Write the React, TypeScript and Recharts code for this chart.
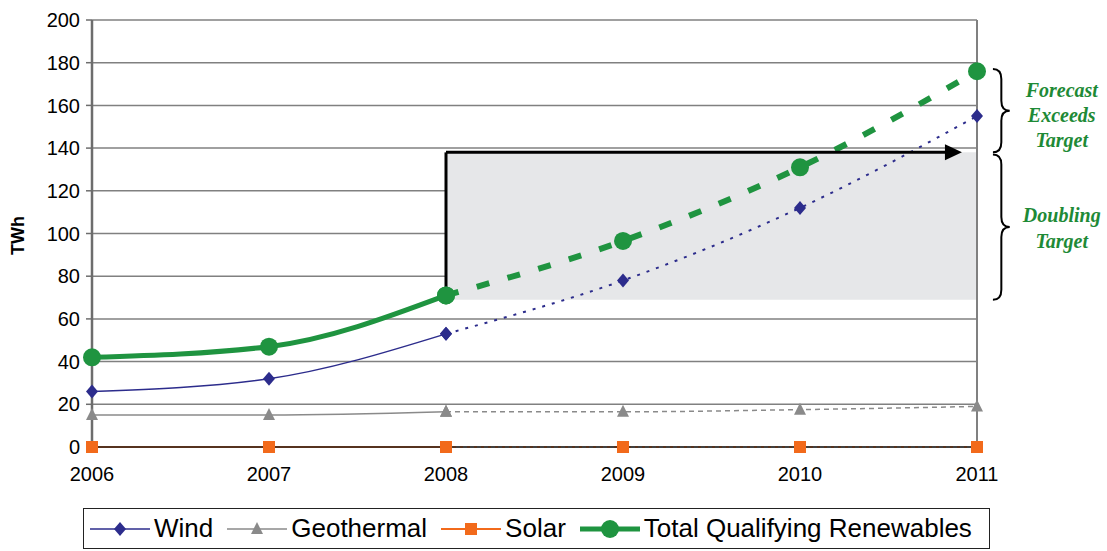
import React from 'react';
import {
  LineChart, Line, XAxis, YAxis, CartesianGrid, ReferenceArea, ReferenceLine, Legend, Label,
} from 'recharts';

const years = [2006, 2007, 2008, 2009, 2010, 2011];
const windValues = [26, 32, 53, 78, 112, 155];
const geothermalValues = [15, 15, 16.5, 16.5, 17.5, 19];
const solarValues = [0, 0, 0, 0, 0, 0];
const totalValues = [42, 47, 71, 96.5, 131, 176];
const lastActualYear = 2008;
const yTicks = [0, 20, 40, 60, 80, 100, 120, 140, 160, 180, 200];
const baseline = 69;
const target = 138;

const GREEN = '#1f9440';
const NAVY = '#2c2c8c';
const GRAY = '#8a8a8a';
const ORANGE = '#f26a1b';
const TEXT_GREEN = '#1e8a36';

const data = years.map((year, i) => ({
  year,
  windA: year <= lastActualYear ? windValues[i] : null,
  windF: year >= lastActualYear ? windValues[i] : null,
  geoA: year <= lastActualYear ? geothermalValues[i] : null,
  geoF: year >= lastActualYear ? geothermalValues[i] : null,
  solarA: year <= lastActualYear ? solarValues[i] : null,
  solarF: year >= lastActualYear ? solarValues[i] : null,
  totalA: year <= lastActualYear ? totalValues[i] : null,
  totalF: year >= lastActualYear ? totalValues[i] : null,
}));

type ShapeKind = 'diamond' | 'triangle' | 'square' | 'circle';

function Marker({ kind, cx, cy, color }: { kind: ShapeKind; cx: number; cy: number; color: string }) {
  if (kind === 'diamond') {
    return <polygon points={`${cx},${cy - 7} ${cx + 6},${cy} ${cx},${cy + 7} ${cx - 6},${cy}`} fill={color} />;
  }
  if (kind === 'triangle') {
    return <polygon points={`${cx},${cy - 7} ${cx + 6},${cy + 5} ${cx - 6},${cy + 5}`} fill={color} />;
  }
  if (kind === 'square') {
    return <rect x={cx - 6} y={cy - 6} width={12} height={12} fill={color} />;
  }
  return <circle cx={cx} cy={cy} r={9} fill={color} />;
}

const makeDot = (kind: ShapeKind, color: string) => (props: any) => {
  const { cx, cy, index } = props;
  if (cx == null || cy == null || props.value == null) return <g key={`e-${kind}-${index}`} />;
  return <g key={`d-${kind}-${index}`}><Marker kind={kind} cx={cx} cy={cy} color={color} /></g>;
};

const legendItems: { name: string; color: string; kind: ShapeKind; width: number }[] = [
  { name: 'Wind', color: NAVY, kind: 'diamond', width: 1.5 },
  { name: 'Geothermal', color: GRAY, kind: 'triangle', width: 1.5 },
  { name: 'Solar', color: ORANGE, kind: 'square', width: 2 },
  { name: 'Total Qualifying Renewables', color: GREEN, kind: 'circle', width: 5 },
];

const LegendContent = () => (
  <div
    style={{
      boxSizing: 'border-box',
      width: '100%',
      height: '100%',
      border: '1.5px solid #222',
      display: 'flex',
      alignItems: 'center',
      paddingLeft: 6,
      fontFamily: '"Liberation Sans", Arial, sans-serif',
      fontSize: 26,
      color: '#000',
      background: '#fff',
    }}
  >
    {legendItems.map((it, i) => (
      <div key={it.name} style={{ display: 'flex', alignItems: 'center', marginRight: i < 3 ? 14 : 0 }}>
        <svg width={60} height={24} style={{ display: 'block' }}>
          <line x1={0} y1={12} x2={60} y2={12} stroke={it.color} strokeWidth={it.width} />
          <Marker kind={it.kind} cx={30} cy={12} color={it.color} />
        </svg>
        <span style={{ marginLeft: 4 }}>{it.name}</span>
      </div>
    ))}
  </div>
);

const braceShape = (lines: string[], lineOffsets: number[]) => (props: any) => {
  const { x, y, width, height } = props;
  const x0 = x;
  const xt = x + width;
  const xm = x + width / 2;
  const y0 = y;
  const y1 = y + height;
  const ym = y + height / 2;
  const r = Math.min(10, height / 4);
  const d = `M ${x0} ${y0} Q ${xm} ${y0} ${xm} ${y0 + r} L ${xm} ${ym - r} Q ${xm} ${ym} ${xt} ${ym} Q ${xm} ${ym} ${xm} ${ym + r} L ${xm} ${y1 - r} Q ${xm} ${y1} ${x0} ${y1}`;
  return (
    <g>
      <path d={d} fill="none" stroke="#000" strokeWidth={2} />
      {lines.map((t, i) => (
        <text
          key={t + i}
          x={xt + 52}
          y={ym + lineOffsets[i]}
          textAnchor="middle"
          fill={TEXT_GREEN}
          fontFamily='"Liberation Serif", "Times New Roman", serif'
          fontStyle="italic"
          fontWeight="bold"
          fontSize={20}
        >
          {t}
        </text>
      ))}
    </g>
  );
};

const arrowShape = (props: any) => {
  const { x1, y1, x2, y2 } = props;
  return (
    <g>
      <line x1={x1} y1={y1} x2={x2 - 12} y2={y2} stroke="#000" strokeWidth={3} />
      <polygon points={`${x2},${y2} ${x2 - 17},${y2 - 8} ${x2 - 17},${y2 + 8}`} fill="#000" />
    </g>
  );
};

const tickStyle = { fill: '#000', fontSize: 20, fontFamily: '"Liberation Sans", Arial, sans-serif' };

export default function App() {
  return (
    <div style={{ position: 'absolute', left: 0, top: 0, width: 1107, height: 551, background: '#fff' }}>
      <LineChart width={1107} height={551} data={data} margin={{ top: 20, right: 130, bottom: 74, left: 0 }}>
        <ReferenceArea x1={2008} x2={2011} y1={baseline} y2={target} fill="#e6e7e9" fillOpacity={1} stroke="none" />
        <CartesianGrid vertical={false} stroke="#808080" strokeWidth={1.5} />
        <XAxis
          dataKey="year"
          type="number"
          domain={[2006, 2011]}
          ticks={years}
          tick={tickStyle}
          tickSize={0}
          tickMargin={20}
          height={30}
          axisLine={{ stroke: '#222', strokeWidth: 1.5 }}
          tickLine={false}
        />
        <YAxis
          width={92}
          domain={[0, 200]}
          ticks={yTicks}
          tick={tickStyle}
          tickSize={6}
          tickMargin={6}
          axisLine={{ stroke: '#6d6d6d', strokeWidth: 2.5 }}
          tickLine={{ stroke: '#6d6d6d', strokeWidth: 1.5 }}
          interval={0}
        >
          <Label
            content={(p: any) => {
              const vb = p.viewBox || {};
              const cx = 18;
              const cy = (vb.y ?? 20) + (vb.height ?? 427) / 2 + 2;
              return (
                <text
                  x={cx}
                  y={cy}
                  transform={`rotate(-90, ${cx}, ${cy})`}
                  textAnchor="middle"
                  dominantBaseline="central"
                  fontFamily='"Liberation Sans", Arial, sans-serif'
                  fontWeight="bold"
                  fontSize={18}
                  fill="#000"
                >
                  TWh
                </text>
              );
            }}
          />
        </YAxis>
        <ReferenceLine x={2011} stroke="#808080" strokeWidth={2} />

        <Line dataKey="solarA" type="linear" stroke={ORANGE} strokeWidth={2} dot={makeDot('square', ORANGE)} isAnimationActive={false} legendType="none" />
        <Line dataKey="solarF" type="linear" stroke={ORANGE} strokeWidth={2} strokeDasharray="3 4" dot={makeDot('square', ORANGE)} isAnimationActive={false} legendType="none" />
        <Line dataKey="geoA" type="monotone" stroke={GRAY} strokeWidth={1.5} dot={makeDot('triangle', GRAY)} isAnimationActive={false} legendType="none" />
        <Line dataKey="geoF" type="monotone" stroke={GRAY} strokeWidth={1.5} strokeDasharray="5 4" dot={makeDot('triangle', GRAY)} isAnimationActive={false} legendType="none" />
        <Line dataKey="windA" type="monotone" stroke={NAVY} strokeWidth={1.5} dot={makeDot('diamond', NAVY)} isAnimationActive={false} legendType="none" />
        <Line dataKey="windF" type="monotone" stroke={NAVY} strokeWidth={2} strokeDasharray="3 7" dot={makeDot('diamond', NAVY)} isAnimationActive={false} legendType="none" />
        <Line dataKey="totalA" type="monotone" stroke={GREEN} strokeWidth={5} dot={makeDot('circle', GREEN)} isAnimationActive={false} legendType="none" />
        <Line dataKey="totalF" type="monotone" stroke={GREEN} strokeWidth={6} strokeDasharray="13 19" dot={makeDot('circle', GREEN)} isAnimationActive={false} legendType="none" />

        <ReferenceLine segment={[{ x: 2008, y: 71 }, { x: 2008, y: target }]} stroke="#000" strokeWidth={3} />
        <ReferenceLine segment={[{ x: 2008, y: target }, { x: 2010.915, y: target }]} shape={arrowShape} />
        <ReferenceArea
          x1={2011.09}
          x2={2011.185}
          y1={target}
          y2={177}
          ifOverflow="visible"
          shape={braceShape(['Forecast', 'Exceeds', 'Target'], [-14, 11, 36])}
        />
        <ReferenceArea
          x1={2011.09}
          x2={2011.185}
          y1={baseline}
          y2={target - 1}
          ifOverflow="visible"
          shape={braceShape(['Doubling', 'Target'], [-5, 21])}
        />
        <Legend
          layout="horizontal"
          verticalAlign="middle"
          align="center"
          content={<LegendContent />}
          wrapperStyle={{ left: 83, top: 508, width: 907, height: 41 }}
        />
      </LineChart>
    </div>
  );
}
